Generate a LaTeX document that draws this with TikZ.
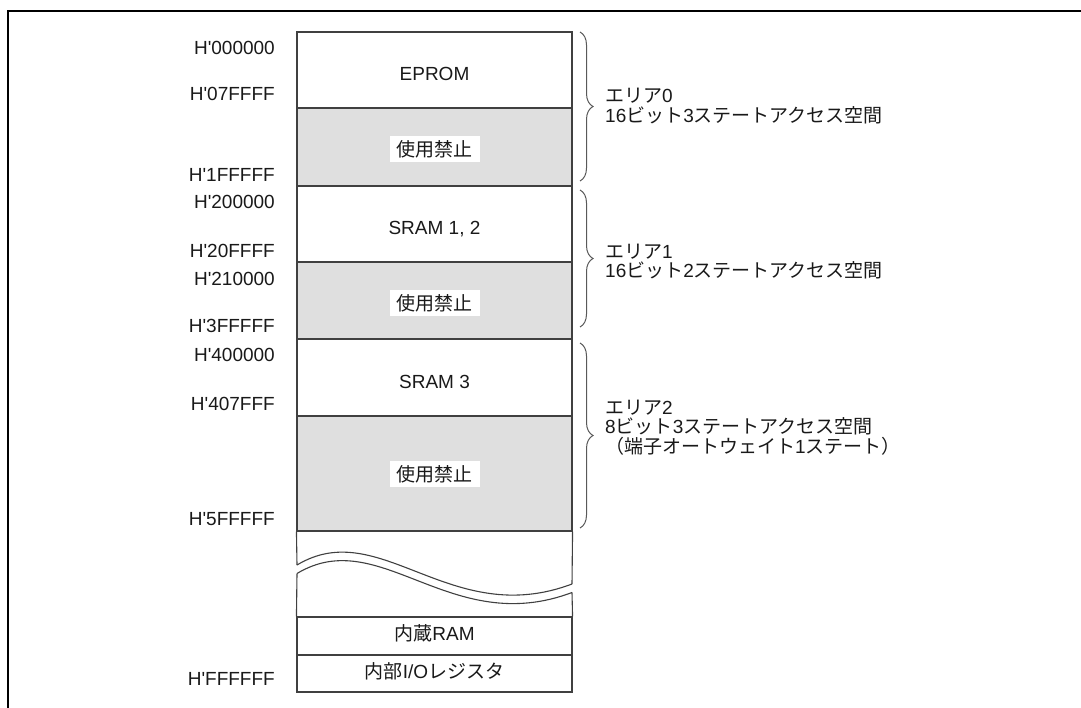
\documentclass[tikz,border=0pt]{standalone}
\usepackage{fontspec}
\newfontfamily\latfont{Liberation Sans}
\newfontfamily\jpfont{Noto Sans CJK JP}
\newcommand{\ja}[1]{{\jpfont #1}}
\usetikzlibrary{decorations.pathreplacing}

\begin{document}
\begin{tikzpicture}[x=1pt,y=-1pt,
  font=\latfont\fontsize{19}{18}\selectfont,
  every node/.style={text=black!90},
  edge/.style={draw=black!75, line width=1.1pt},
  mrow/.style={edge, minimum width=275pt, inner sep=0pt, text depth=0pt, text height=21.6pt},
  rsv/.style={mrow, fill=gray!25},
  tag/.style={fill=white, inner xsep=7pt, inner ysep=0pt, minimum height=26pt},
  addr/.style={anchor=base east, inner sep=0pt},
  note/.style={anchor=base west, inner sep=0pt},
  brc/.style={draw=black!65, line width=1pt, decorate, decoration={brace, amplitude=13pt}}]
\useasboundingbox (0,0) rectangle (1081,707);
% frame
\draw[line width=2.3pt] (1090,11) -- (8,11) -- (8,715);
% memory map
\node[mrow, minimum height=76pt] (eprom) at (434.5,70) {EPROM};
\node[rsv, minimum height=78pt] (res0) at (434.5,147) {};
\node[mrow, minimum height=76pt] (sram12) at (434.5,224) {SRAM 1, 2};
\node[rsv, minimum height=77pt] (res1) at (434.5,300.5) {};
\node[mrow, minimum height=77pt] (sram3) at (434.5,377.5) {SRAM 3};
\node[rsv, minimum height=115pt] (res2) at (434.5,473.5) {};
\node[mrow, minimum height=38pt, text height=9.6pt] (iram) at (434.5,636) {\ja{内蔵}RAM};
\node[mrow, minimum height=37pt, text height=9.6pt] (ioreg) at (434.5,673.5) {\ja{内部}I/O\ja{レジスタ}};
\node[tag] (tag0) at (434.5,149) {\ja{使用禁止}};
\node[tag] (tag1) at (434.5,303) {\ja{使用禁止}};
\node[tag] (tag2) at (434.5,474) {\ja{使用禁止}};
% break
\draw[edge] (res2.south west) -- (297,565);
\draw[edge] (297,573.5) -- (iram.north west);
\draw[edge] (res2.south east) -- (572,584);
\draw[edge] (572,592.5) -- (iram.north east);
\draw[edge] (297,565) .. controls (380,515) and (450,630) .. (572,584);
\draw[edge] (297,573.5) .. controls (380,523.5) and (450,638.5) .. (572,592.5);
% addresses
\foreach \lab/\yy in {000000/54, 07FFFF/100, 1FFFFF/181, 200000/208, 20FFFF/257,
  210000/285, 3FFFFF/332.5, 400000/361, 407FFF/410, 5FFFFF/525, FFFFFF/685}
  \node[addr] (a\lab) at (275,\yy) {H'\lab};
% areas
\draw[brc] (580,32) -- (580,181);
\draw[brc] (580,190) -- (580,327);
\draw[brc] (580,343) -- (580,528);
\node[note] (area0) at (605,102.5) {\ja{エリア}0};
\node[note] (area0bus) at (605,122) {16\ja{ビット}3\ja{ステートアクセス空間}};
\node[note] (area1) at (605,258) {\ja{エリア}1};
\node[note] (area1bus) at (605,277.5) {16\ja{ビット}2\ja{ステートアクセス空間}};
\node[note] (area2) at (605,414) {\ja{エリア}2};
\node[note] (area2bus) at (605,433.5) {8\ja{ビット}3\ja{ステートアクセス空間}};
\node[note] (area2wait) at (605,453) {\ja{（端子オートウェイト}1\ja{ステート）}};
\end{tikzpicture}
\end{document}
